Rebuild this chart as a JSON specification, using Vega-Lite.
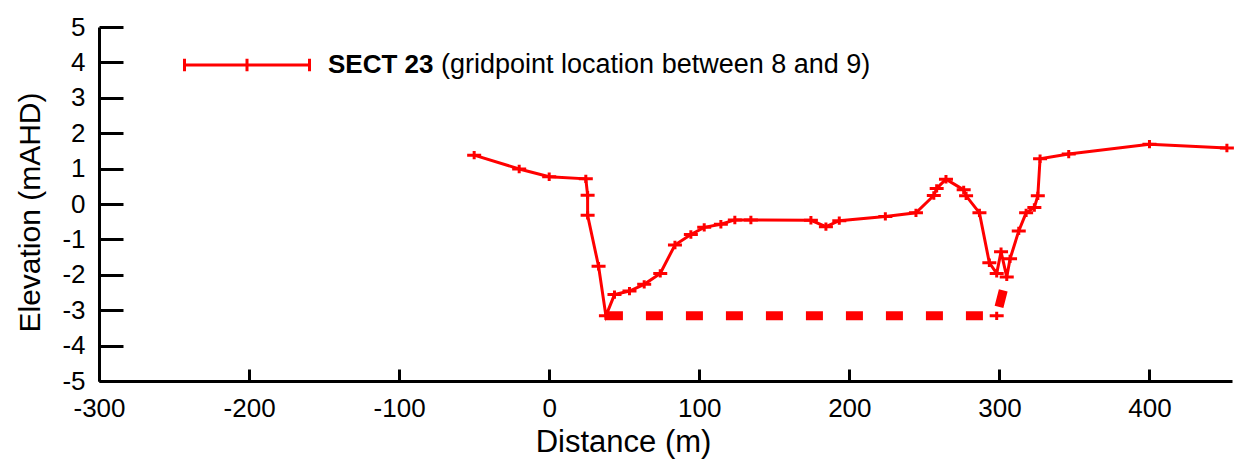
{
  "$schema": "https://vega.github.io/schema/vega-lite/v6.json",
  "width": 1133,
  "height": 354,
  "autosize": "none",
  "padding": {"left": 99, "top": 27, "right": 8, "bottom": 80},
  "background": "white",
  "config": {
    "view": {"stroke": null},
    "font": "Liberation Sans",
    "axis": {
      "domainColor": "black",
      "domainWidth": 3,
      "tickColor": "black",
      "tickWidth": 3,
      "grid": false,
      "labelFont": "Liberation Sans",
      "labelFontSize": 26,
      "labelColor": "black",
      "labelFlush": false,
      "labelExpr": "'' + datum.value",
      "titleFont": "Liberation Sans",
      "titleFontSize": 30,
      "titleFontWeight": "normal",
      "titleColor": "black"
    }
  },
  "datasets": {
    "profile": [
      {"distance": -50, "elevation": 1.38, "series": "SECT 23"},
      {"distance": -20, "elevation": 0.99, "series": "SECT 23"},
      {"distance": 0, "elevation": 0.77, "series": "SECT 23"},
      {"distance": 24.4, "elevation": 0.71, "series": "SECT 23"},
      {"distance": 25.6, "elevation": 0.25, "series": "SECT 23"},
      {"distance": 25.6, "elevation": -0.32, "series": "SECT 23"},
      {"distance": 32.9, "elevation": -1.76, "series": "SECT 23"},
      {"distance": 37.8, "elevation": -3.16, "series": "SECT 23"},
      {"distance": 43.5, "elevation": -2.56, "series": "SECT 23"},
      {"distance": 53.5, "elevation": -2.46, "series": "SECT 23"},
      {"distance": 63.3, "elevation": -2.27, "series": "SECT 23"},
      {"distance": 74, "elevation": -1.96, "series": "SECT 23"},
      {"distance": 83.8, "elevation": -1.16, "series": "SECT 23"},
      {"distance": 94.4, "elevation": -0.86, "series": "SECT 23"},
      {"distance": 103.3, "elevation": -0.66, "series": "SECT 23"},
      {"distance": 114.4, "elevation": -0.57, "series": "SECT 23"},
      {"distance": 123.7, "elevation": -0.45, "series": "SECT 23"},
      {"distance": 134.4, "elevation": -0.45, "series": "SECT 23"},
      {"distance": 174.4, "elevation": -0.46, "series": "SECT 23"},
      {"distance": 184.4, "elevation": -0.64, "series": "SECT 23"},
      {"distance": 193.3, "elevation": -0.47, "series": "SECT 23"},
      {"distance": 224, "elevation": -0.35, "series": "SECT 23"},
      {"distance": 244.4, "elevation": -0.25, "series": "SECT 23"},
      {"distance": 256.3, "elevation": 0.24, "series": "SECT 23"},
      {"distance": 258.2, "elevation": 0.44, "series": "SECT 23"},
      {"distance": 264.4, "elevation": 0.7, "series": "SECT 23"},
      {"distance": 276.2, "elevation": 0.4, "series": "SECT 23"},
      {"distance": 277.8, "elevation": 0.23, "series": "SECT 23"},
      {"distance": 286.7, "elevation": -0.25, "series": "SECT 23"},
      {"distance": 293.3, "elevation": -1.66, "series": "SECT 23"},
      {"distance": 298.2, "elevation": -1.96, "series": "SECT 23"},
      {"distance": 301.1, "elevation": -1.35, "series": "SECT 23"},
      {"distance": 304.9, "elevation": -2.06, "series": "SECT 23"},
      {"distance": 307.1, "elevation": -1.55, "series": "SECT 23"},
      {"distance": 312.9, "elevation": -0.76, "series": "SECT 23"},
      {"distance": 317.8, "elevation": -0.25, "series": "SECT 23"},
      {"distance": 323.3, "elevation": -0.1, "series": "SECT 23"},
      {"distance": 325.6, "elevation": 0.23, "series": "SECT 23"},
      {"distance": 327.1, "elevation": 1.28, "series": "SECT 23"},
      {"distance": 346.2, "elevation": 1.41, "series": "SECT 23"},
      {"distance": 400, "elevation": 1.69, "series": "SECT 23"},
      {"distance": 451.6, "elevation": 1.58, "series": "SECT 23"}
    ],
    "bed": [
      {"distance": 37.8, "elevation": -3.16},
      {"distance": 298.2, "elevation": -3.16},
      {"distance": 304.9, "elevation": -2.06}
    ],
    "marker": [
      {"distance": 298.2, "elevation": -3.16}
    ]
  },
  "encoding": {
    "x": {
      "field": "distance",
      "type": "quantitative",
      "scale": {"domain": [-300, 455], "nice": false, "zero": false},
      "axis": {
        "values": [-300, -200, -100, 0, 100, 200, 300, 400],
        "title": "Distance (m)",
        "titleFontSize": 31,
        "tickSize": -12,
        "labelPadding": 26,
        "titleX": 524,
        "titlePadding": 6
      }
    },
    "y": {
      "field": "elevation",
      "type": "quantitative",
      "scale": {"domain": [-5, 5], "nice": false, "zero": false},
      "axis": {
        "values": [-5, -4, -3, -2, -1, 0, 1, 2, 3, 4, 5],
        "title": "Elevation (mAHD)",
        "tickSize": -24,
        "labelPadding": 38,
        "titlePadding": 16,
        "titleY": 185
      }
    }
  },
  "layer": [
    {
      "data": {"name": "bed"},
      "mark": {"type": "line", "color": "#ff0000", "strokeWidth": 9, "strokeDash": [17, 23], "strokeCap": "butt"},
      "encoding": {"order": {"value": null}}
    },
    {
      "data": {"name": "marker"},
      "mark": {"type": "point", "shape": "M-1,0H1M0,-0.6V0.6", "size": 196, "filled": false, "color": "#ff0000", "strokeWidth": 3, "opacity": 1}
    },
    {
      "data": {"name": "profile"},
      "mark": {"type": "line", "strokeWidth": 3},
      "encoding": {
        "order": {"value": null},
        "color": {
          "field": "series",
          "type": "nominal",
          "scale": {"range": ["#ff0000"]},
          "legend": {
            "orient": "none",
            "legendX": 134,
            "legendY": 24,
            "padding": 0,
            "symbolType": "M-5,0H5M-5,-0.5V0.5M0,-0.5V0.5M5,-0.5V0.5",
            "symbolSize": 625,
            "symbolStrokeWidth": 3,
            "symbolFillColor": "transparent",
            "labelFont": "Liberation Sans",
            "labelFontSize": 26,
            "labelFontWeight": "bold",
            "labelColor": "black",
            "labelOffset": 67,
            "title": "(gridpoint location between 8 and 9)",
            "titleOrient": "right",
            "titleFont": "Liberation Sans",
            "titleFontSize": 27,
            "titleFontWeight": "normal",
            "titleColor": "black",
            "titleLimit": 800,
            "titlePadding": 8
          }
        }
      }
    },
    {
      "data": {"name": "profile"},
      "mark": {"type": "point", "shape": "M-1,0H1M0,-0.6V0.6", "size": 196, "filled": false, "color": "#ff0000", "strokeWidth": 3, "opacity": 1}
    }
  ]
}
